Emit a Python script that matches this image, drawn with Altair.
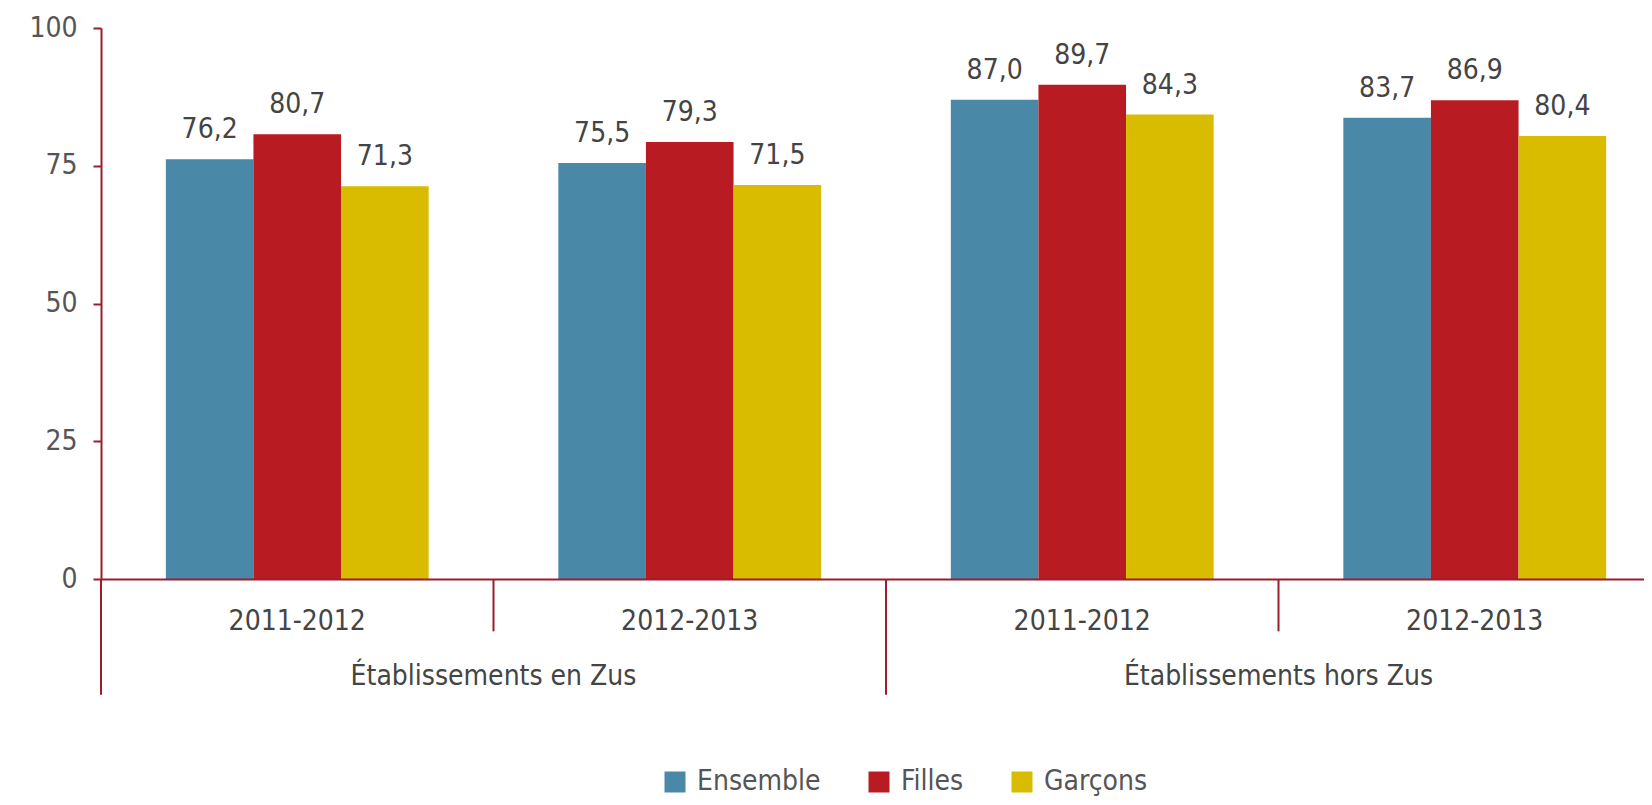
import altair as alt
import pandas as pd

groups = ["Établissements en Zus", "Établissements hors Zus"]
years = ["2011-2012", "2012-2013"]
series = ["Ensemble", "Filles", "Garçons"]
ensemble = [76.2, 75.5, 87.0, 83.7]
filles = [80.7, 79.3, 89.7, 86.9]
garcons = [71.3, 71.5, 84.3, 80.4]
colors = ["#4A88A8", "#B81C22", "#D9BC00"]

FONT = "Liberation Sans Narrow, DejaVu Sans Condensed, Arial Narrow, sans-serif"
AXIS_RED = "#9A1D2E"
W, H = 1570, 551

keys = [f"{g}|{y}" for g in groups for y in years]
rows = []
for k, key in enumerate(keys):
    for s, vals in zip(series, [ensemble, filles, garcons]):
        rows.append({"key": key, "series": s, "value": vals[k],
                     "label": f"{vals[k]:.1f}".replace(".", ",")})
df = pd.DataFrame(rows)
year_df = pd.DataFrame({"key": keys, "year": [k.split("|")[1] for k in keys]})
group_df = pd.DataFrame({"key": [f"{g}|{years[0]}" for g in groups], "group": groups})
long_df = pd.DataFrame({"key": [f"{g}|{years[0]}" for g in groups]})
short_df = pd.DataFrame({"key": [f"{g}|{years[1]}" for g in groups]})
end_df = pd.DataFrame({"key": [keys[-1]]})

xscale = alt.Scale(domain=keys, paddingInner=0, paddingOuter=0)
yscale = alt.Scale(domain=[0, 100], nice=False)
xoff = alt.XOffset("series:N", sort=series,
                   scale=alt.Scale(domain=series, paddingInner=0, paddingOuter=0.74))

bars = alt.Chart(df).mark_bar().encode(
    x=alt.X("key:N", scale=xscale, sort=keys,
            axis=alt.Axis(labels=False, ticks=False, title=None, domainColor=AXIS_RED,
                          domainWidth=2, zindex=1)),
    xOffset=xoff,
    y=alt.Y("value:Q", scale=yscale,
            axis=alt.Axis(values=[0, 25, 50, 75, 100], title=None, grid=False,
                          domainColor=AXIS_RED, domainWidth=2, tickColor=AXIS_RED,
                          tickWidth=2, tickSize=8, labelPadding=16, labelFontSize=28,
                          labelColor="#555555", labelFont=FONT, minExtent=88,
                          maxExtent=88, zindex=1)),
    color=alt.Color("series:N", sort=series,
                    scale=alt.Scale(domain=series, range=colors),
                    legend=alt.Legend(orient="none", legendX=560, legendY=740,
                                      direction="horizontal", title=None,
                                      symbolType="square", symbolSize=441,
                                      symbolStrokeWidth=0, labelFontSize=28,
                                      labelFont=FONT, labelColor="#555555",
                                      labelOffset=8, columnPadding=44)),
)

texts = alt.Chart(df).mark_text(baseline="alphabetic", dy=-21, fontSize=28,
                                font=FONT, color="#444444").encode(
    x=alt.X("key:N", scale=xscale, sort=keys),
    xOffset=xoff,
    y=alt.Y("value:Q", scale=yscale),
    text="label:N",
)

year_text = alt.Chart(year_df).mark_text(baseline="middle", fontSize=28, font=FONT,
                                         color="#444444").encode(
    x=alt.X("key:N", scale=xscale, sort=keys),
    y=alt.datum(-7.8),
    text="year:N",
)

group_text = alt.Chart(group_df).mark_text(baseline="middle", fontSize=28, font=FONT,
                                           color="#444444").encode(
    x=alt.X("key:N", scale=xscale, sort=keys, bandPosition=1),
    y=alt.datum(-17.8),
    text="group:N",
)

long_rules = alt.Chart(long_df).mark_rule(color=AXIS_RED, strokeWidth=2).encode(
    x=alt.X("key:N", scale=xscale, sort=keys, bandPosition=0),
    y=alt.datum(0), y2=alt.datum(-21),
)
short_rules = alt.Chart(short_df).mark_rule(color=AXIS_RED, strokeWidth=2).encode(
    x=alt.X("key:N", scale=xscale, sort=keys, bandPosition=0),
    y=alt.datum(0), y2=alt.datum(-9.5),
)
end_rules = alt.Chart(end_df).mark_rule(color=AXIS_RED, strokeWidth=2).encode(
    x=alt.X("key:N", scale=xscale, sort=keys, bandPosition=1),
    y=alt.datum(0), y2=alt.datum(-9.5),
)

chart = alt.layer(bars, texts, year_text, group_text, long_rules, short_rules, end_rules).properties(
    width=W, height=H, padding={"left": 5, "top": 6, "right": -28, "bottom": 0}
).configure(font=FONT).configure_view(stroke=None)

chart.save("out.html", embed_options={"renderer": "svg", "actions": False})
